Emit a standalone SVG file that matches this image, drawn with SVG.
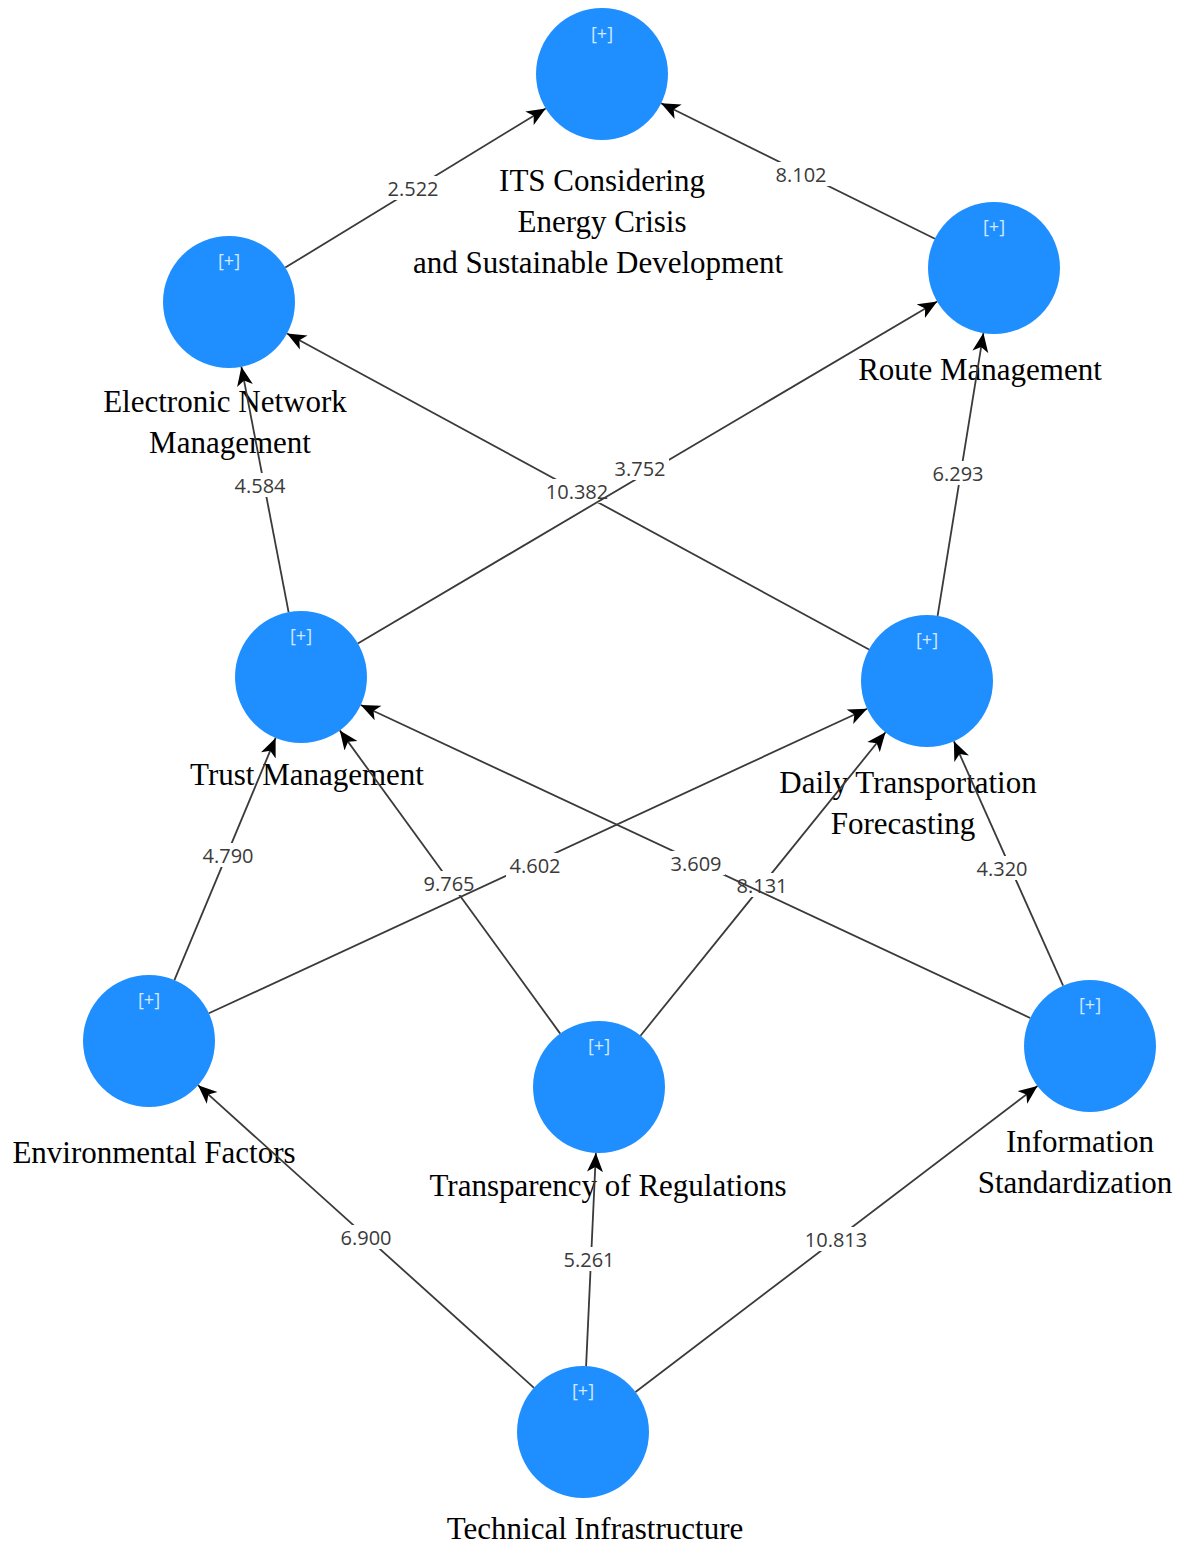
<svg xmlns="http://www.w3.org/2000/svg" width="1194" height="1546" viewBox="0 0 1194 1546">
<style>
.node{fill:#1f8fff;}
.plus{font-family:"Open Sans","Noto Sans",sans-serif;font-size:18px;fill:#d4e9ff;text-anchor:middle;}
.lbl{font-family:"Liberation Serif","Times New Roman",serif;font-size:31px;fill:#000;text-anchor:middle;}
.edge{stroke:#3a3a3a;stroke-width:1.8;fill:none;marker-end:url(#arr);}
.ebox{fill:#fff;}
.etxt{font-family:"Open Sans","Noto Sans",sans-serif;font-size:20px;fill:#3a3a3a;text-anchor:middle;dominant-baseline:central;}
</style>
<defs>
<marker id="arr" markerUnits="userSpaceOnUse" markerWidth="20" markerHeight="17" refX="19" refY="8.5" orient="auto">
<path d="M0,0.5 L19,8.5 L0,16.5 L5,8.5 Z" fill="#000"/>
</marker>
</defs>
<rect width="1194" height="1546" fill="#fff"/>

<g id="node-its">
<circle class="node" cx="602" cy="74" r="66"/>
<text class="plus" x="602" y="40">[+]</text>
<text class="lbl" x="602" y="191">ITS Considering</text>
<text class="lbl" x="602" y="232">Energy Crisis</text>
<text class="lbl" x="598" y="273">and Sustainable Development</text>
</g>
<g id="node-enm">
<circle class="node" cx="229" cy="302" r="66"/>
<text class="plus" x="229" y="267">[+]</text>
<text class="lbl" x="225" y="412">Electronic Network</text>
<text class="lbl" x="230" y="453">Management</text>
</g>
<g id="node-route">
<circle class="node" cx="994" cy="268" r="66"/>
<text class="plus" x="994" y="233">[+]</text>
<text class="lbl" x="980" y="380">Route Management</text>
</g>
<g id="node-trust">
<circle class="node" cx="301" cy="677" r="66"/>
<text class="plus" x="301" y="642">[+]</text>
<text class="lbl" x="307" y="785">Trust Management</text>
</g>
<g id="node-daily">
<circle class="node" cx="927" cy="681" r="66"/>
<text class="plus" x="927" y="646">[+]</text>
<text class="lbl" x="908" y="793">Daily Transportation</text>
<text class="lbl" x="903" y="834">Forecasting</text>
</g>
<g id="node-env">
<circle class="node" cx="149" cy="1041" r="66"/>
<text class="plus" x="149" y="1006">[+]</text>
<text class="lbl" x="154" y="1163">Environmental Factors</text>
</g>
<g id="node-transp">
<circle class="node" cx="599" cy="1087" r="66"/>
<text class="plus" x="599" y="1052">[+]</text>
<text class="lbl" x="608" y="1196">Transparency of Regulations</text>
</g>
<g id="node-info">
<circle class="node" cx="1090" cy="1046" r="66"/>
<text class="plus" x="1090" y="1011">[+]</text>
<text class="lbl" x="1080" y="1152">Information</text>
<text class="lbl" x="1075" y="1193">Standardization</text>
</g>
<g id="node-tech">
<circle class="node" cx="583" cy="1432" r="66"/>
<text class="plus" x="583" y="1397">[+]</text>
<text class="lbl" x="595" y="1539">Technical Infrastructure</text>
</g>

<g id="connectors">
<g><line class="edge" x1="285.3" y1="267.6" x2="545.7" y2="108.4"/><rect class="ebox" x="384" y="176" width="58" height="24"/><text class="etxt" x="413" y="188">2.522</text></g>
<g><line class="edge" x1="934.9" y1="238.7" x2="661.1" y2="103.3"/><rect class="ebox" x="772" y="162" width="58" height="24"/><text class="etxt" x="801" y="174">8.102</text></g>
<g><line class="edge" x1="288.6" y1="612.2" x2="241.4" y2="366.8"/><rect class="ebox" x="231" y="473" width="58" height="24"/><text class="etxt" x="260" y="485">4.584</text></g>
<g><line class="edge" x1="869.0" y1="649.5" x2="287.0" y2="333.5"/><rect class="ebox" x="543" y="479" width="68" height="24"/><text class="etxt" x="577" y="491">10.382</text></g>
<g><line class="edge" x1="357.8" y1="643.5" x2="937.2" y2="301.5"/><rect class="ebox" x="611" y="456" width="58" height="24"/><text class="etxt" x="640" y="468">3.752</text></g>
<g><line class="edge" x1="937.6" y1="615.9" x2="983.4" y2="333.1"/><rect class="ebox" x="929" y="461" width="58" height="24"/><text class="etxt" x="958" y="473">6.293</text></g>
<g><line class="edge" x1="174.4" y1="980.1" x2="275.6" y2="737.9"/><rect class="ebox" x="199" y="843" width="58" height="24"/><text class="etxt" x="228" y="855">4.790</text></g>
<g><line class="edge" x1="560.2" y1="1033.6" x2="339.8" y2="730.4"/><rect class="ebox" x="421" y="871" width="57" height="24"/><text class="etxt" x="449" y="883">9.765</text></g>
<g><line class="edge" x1="208.9" y1="1013.3" x2="867.1" y2="708.7"/><rect class="ebox" x="506" y="853" width="58" height="24"/><text class="etxt" x="535" y="865">4.602</text></g>
<g><line class="edge" x1="640.5" y1="1035.7" x2="885.5" y2="732.3"/><rect class="ebox" x="733" y="873" width="58" height="24"/><text class="etxt" x="762" y="885">8.131</text></g>
<g><line class="edge" x1="1030.2" y1="1018.0" x2="360.8" y2="705.0"/><rect class="ebox" x="667" y="851" width="58" height="24"/><text class="etxt" x="696" y="863">3.609</text></g>
<g><line class="edge" x1="1063.1" y1="985.7" x2="953.9" y2="741.3"/><rect class="ebox" x="973" y="856" width="58" height="24"/><text class="etxt" x="1002" y="868">4.320</text></g>
<g><line class="edge" x1="534.0" y1="1387.8" x2="198.0" y2="1085.2"/><rect class="ebox" x="337" y="1225" width="58" height="24"/><text class="etxt" x="366" y="1237">6.900</text></g>
<g><line class="edge" x1="586.1" y1="1366.1" x2="595.9" y2="1152.9"/><rect class="ebox" x="560" y="1247" width="58" height="24"/><text class="etxt" x="589" y="1259">5.261</text></g>
<g><line class="edge" x1="635.5" y1="1392.0" x2="1037.5" y2="1086.0"/><rect class="ebox" x="802" y="1227" width="68" height="24"/><text class="etxt" x="836" y="1239">10.813</text></g>
</g>
</svg>
